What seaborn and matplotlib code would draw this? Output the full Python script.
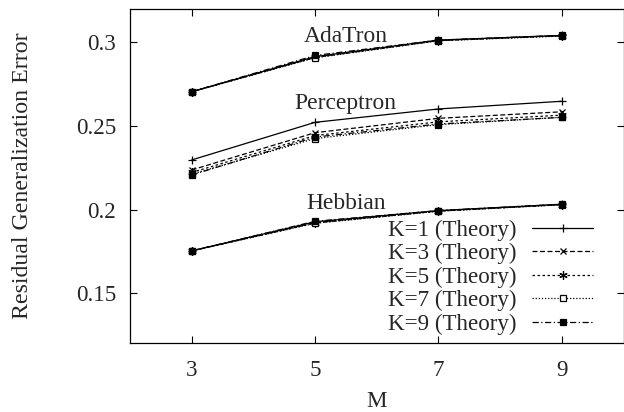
import matplotlib
matplotlib.use("Agg")
import matplotlib.pyplot as plt
import seaborn as sns
import pandas as pd

# Network size M on the x axis
M = [3, 5, 7, 9]
K_values = [1, 3, 5, 7, 9]

# Residual generalization error (theory) per learning rule, one list per K
adatron = {
    1: [0.2705, 0.2915, 0.3014, 0.3042],
    3: [0.2705, 0.2912, 0.3012, 0.3041],
    5: [0.2705, 0.2910, 0.3011, 0.3040],
    7: [0.2705, 0.2908, 0.3010, 0.3038],
    9: [0.2705, 0.2922, 0.3014, 0.3042],
}
perceptron = {
    1: [0.2297, 0.2522, 0.2602, 0.2648],
    3: [0.2237, 0.2460, 0.2546, 0.2585],
    5: [0.2222, 0.2443, 0.2525, 0.2565],
    7: [0.2212, 0.2425, 0.2508, 0.2552],
    9: [0.2207, 0.2434, 0.2512, 0.2552],
}
hebbian = {
    1: [0.1753, 0.1927, 0.1994, 0.2032],
    3: [0.1753, 0.1922, 0.1992, 0.2030],
    5: [0.1753, 0.1920, 0.1991, 0.2030],
    7: [0.1753, 0.1918, 0.1990, 0.2029],
    9: [0.1753, 0.1930, 0.1994, 0.2032],
}

rule_names = ["AdaTron", "Perceptron", "Hebbian"]
rule_data = [adatron, perceptron, hebbian]
rule_label_pos = [(5.49, 0.3003), (5.49, 0.2602), (5.50, 0.2001)]

styles = {
    1: dict(linestyle="-", marker="+", mfc="black", ms=6),
    3: dict(linestyle=(0, (4, 2)), marker="x", mfc="black", ms=5),
    5: dict(linestyle=(0, (2, 2)), marker=(6, 2, 0), mfc="black", ms=6),
    7: dict(linestyle=(0, (1, 1.5)), marker="s", mfc="white", ms=5),
    9: dict(linestyle=(0, (5, 2, 1, 2)), marker="s", mfc="black", ms=5),
}

sns.set_style("ticks")
plt.rcParams["font.family"] = ["Liberation Serif", "DejaVu Serif"]

FS = 16.6

fig = plt.figure(figsize=(6.24, 4.12), dpi=100)
ax = fig.add_axes([130 / 624, (412 - 343.3) / 412, 493.5 / 624, 334.3 / 412])

handles = {}
for name, data in zip(rule_names, rule_data):
    for k in K_values:
        df = pd.DataFrame({"M": M, "err": data[k]})
        st = styles[k]
        sns.lineplot(data=df, x="M", y="err", ax=ax, color="black", lw=0.9,
                     linestyle=st["linestyle"], marker=st["marker"],
                     markersize=st["ms"], markerfacecolor=st["mfc"],
                     markeredgecolor="black", markeredgewidth=0.9)
        if k not in handles:
            handles[k] = ax.get_lines()[-1]

for name, (x, y) in zip(rule_names, rule_label_pos):
    ax.text(x, y, name, ha="center", va="baseline", fontsize=FS + 0.3)

ax.set_xlim(2, 10)
ax.set_ylim(0.12, 0.32)
ax.set_xticks(M)
ax.set_xticklabels([str(m) for m in M])
ax.set_yticks([0.15, 0.2, 0.25, 0.3])
ax.set_yticklabels(["0.15", "0.2", "0.25", "0.3"])
ax.tick_params(direction="in", length=5, width=0.8, labelsize=FS,
               top=True, right=True, color="black")
ax.tick_params(axis="x", pad=12)
ax.tick_params(axis="y", pad=10)
for s in ax.spines.values():
    s.set_linewidth(0.9)
    s.set_color("black")

ax.set_xlabel("M", fontsize=FS, labelpad=7)
ax.set_ylabel("Residual Generalization Error", fontsize=FS + 0.6, labelpad=31)

leg = ax.legend([handles[k] for k in K_values],
                [f"K={k} (Theory)" for k in K_values],
                loc="lower right", bbox_to_anchor=(0.9386, 0.026),
                frameon=False, markerfirst=False, fontsize=FS,
                handlelength=2.65, handletextpad=0.68, labelspacing=0.1,
                borderaxespad=0.0, borderpad=0.0)

fig.savefig("out.png", dpi=100)
